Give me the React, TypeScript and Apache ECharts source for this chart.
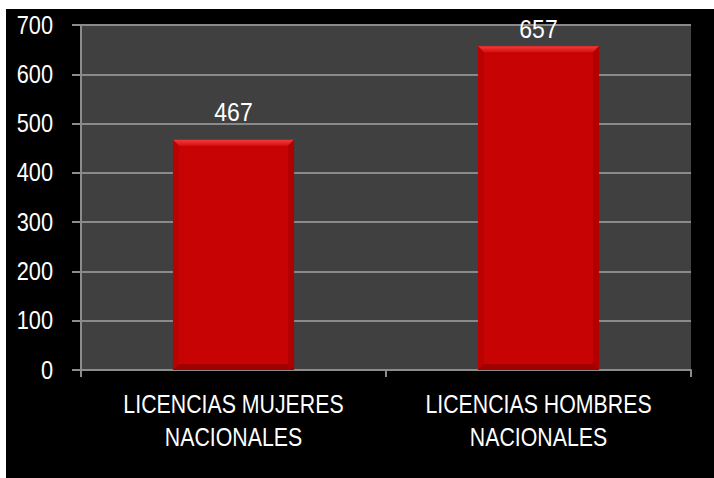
import React, { useEffect, useRef } from "react";
import * as echarts from "echarts";

const categories = ["LICENCIAS MUJERES\nNACIONALES", "LICENCIAS HOMBRES\nNACIONALES"];
const values = [467, 657];
const yTicks = [0, 100, 200, 300, 400, 500, 600, 700];

const FONT = "'Liberation Sans', Arial, sans-serif";

export default function App() {
  const ref = useRef<HTMLDivElement>(null);
  useEffect(() => {
    if (!ref.current) return;
    const chart = echarts.init(ref.current, null, { renderer: "svg" });
    chart.setOption({
      animation: false,
      backgroundColor: "#000000",
      grid: {
        left: 75,
        top: 16,
        right: 23,
        bottom: 108,
        show: true,
        backgroundColor: "#404040",
        borderWidth: 0,
      },
      xAxis: {
        type: "category",
        data: categories,
        axisLine: { show: true, lineStyle: { color: "#8c8c8c", width: 2 } },
        axisTick: { show: true, length: 7, lineStyle: { color: "#8c8c8c", width: 2 } },
        axisLabel: { show: false },
      },
      yAxis: {
        type: "value",
        min: 0,
        max: 700,
        interval: 100,
        axisLine: { show: true, lineStyle: { color: "#8c8c8c", width: 2 } },
        axisTick: { show: true, length: 9, lineStyle: { color: "#8c8c8c", width: 2 } },
        axisLabel: { show: false },
        splitLine: { show: true, lineStyle: { color: "#8a8a8a", width: 2 } },
      },
      series: [
        {
          type: "custom",
          data: values.map((v, i) => [i, v]),
          encode: { x: 0, y: 1 },
          renderItem: (params: any, api: any) => {
            const idx = api.value(0);
            const val = api.value(1);
            const top = api.coord([idx, val]);
            const base = api.coord([idx, 0]);
            const bandW = api.size([1, 0])[0];
            const w = bandW * 0.397;
            const x0 = top[0] - w / 2;
            const x1 = top[0] + w / 2;
            const y0 = top[1];
            const y1 = base[1];
            const b = 6;
            const labelY = Math.max(y0 - 28, params.coordSys.y + 4);
            return {
              type: "group",
              children: [
                {
                  type: "rect",
                  shape: { x: x0, y: y0, width: w, height: y1 - y0 },
                  style: { fill: "#c80303" },
                },
                {
                  type: "polygon",
                  shape: { points: [[x0, y0], [x1, y0], [x1 - b, y0 + b], [x0 + b, y0 + b]] },
                  style: {
                    fill: new echarts.graphic.LinearGradient(0, 0, 0, 1, [
                      { offset: 0, color: "#f03a3a" },
                      { offset: 1, color: "#d81010" },
                    ]),
                  },
                },
                {
                  type: "polygon",
                  shape: { points: [[x0, y0], [x0 + b, y0 + b], [x0 + b, y1 - b], [x0, y1]] },
                  style: { fill: "#bb0202" },
                },
                {
                  type: "polygon",
                  shape: { points: [[x1, y0], [x1 - b, y0 + b], [x1 - b, y1 - b], [x1, y1]] },
                  style: { fill: "#b00000" },
                },
                {
                  type: "polygon",
                  shape: { points: [[x0, y1], [x0 + b, y1 - b], [x1 - b, y1 - b], [x1, y1]] },
                  style: { fill: "#a00000" },
                },
                {
                  type: "text",
                  x: top[0],
                  y: labelY,
                  scaleX: 0.92,
                  style: {
                    text: String(val),
                    fill: "#ffffff",
                    font: `25px ${FONT}`,
                    textAlign: "center",
                    textVerticalAlign: "middle",
                  },
                },
              ],
            };
          },
        },
        {
          type: "custom",
          data: yTicks.map((v) => [0, v]),
          encode: { x: 0, y: 1 },
          clip: false,
          renderItem: (params: any, api: any) => {
            const v = api.value(1);
            const p = api.coord([0, v]);
            return {
              type: "text",
              x: params.coordSys.x - 28,
              y: p[1],
              scaleX: 0.87,
              style: {
                text: String(v),
                fill: "#ffffff",
                font: `25px ${FONT}`,
                textAlign: "right",
                textVerticalAlign: "middle",
              },
            };
          },
        },
        {
          type: "custom",
          data: categories.map((c, i) => [i, 0]),
          encode: { x: 0, y: 1 },
          clip: false,
          renderItem: (params: any, api: any) => {
            const idx = api.value(0);
            const p = api.coord([idx, 0]);
            return {
              type: "text",
              x: p[0],
              y: p[1] + 50,
              scaleX: 0.82,
              style: {
                text: categories[idx],
                fill: "#ffffff",
                font: `26px ${FONT}`,
                lineHeight: 33,
                textAlign: "center",
                textVerticalAlign: "middle",
              },
            };
          },
        },
      ],
    });
    return () => chart.dispose();
  }, []);
  return (
    <div
      ref={ref}
      style={{ position: "absolute", left: 6, top: 9, width: 708, height: 469 }}
    />
  );
}
